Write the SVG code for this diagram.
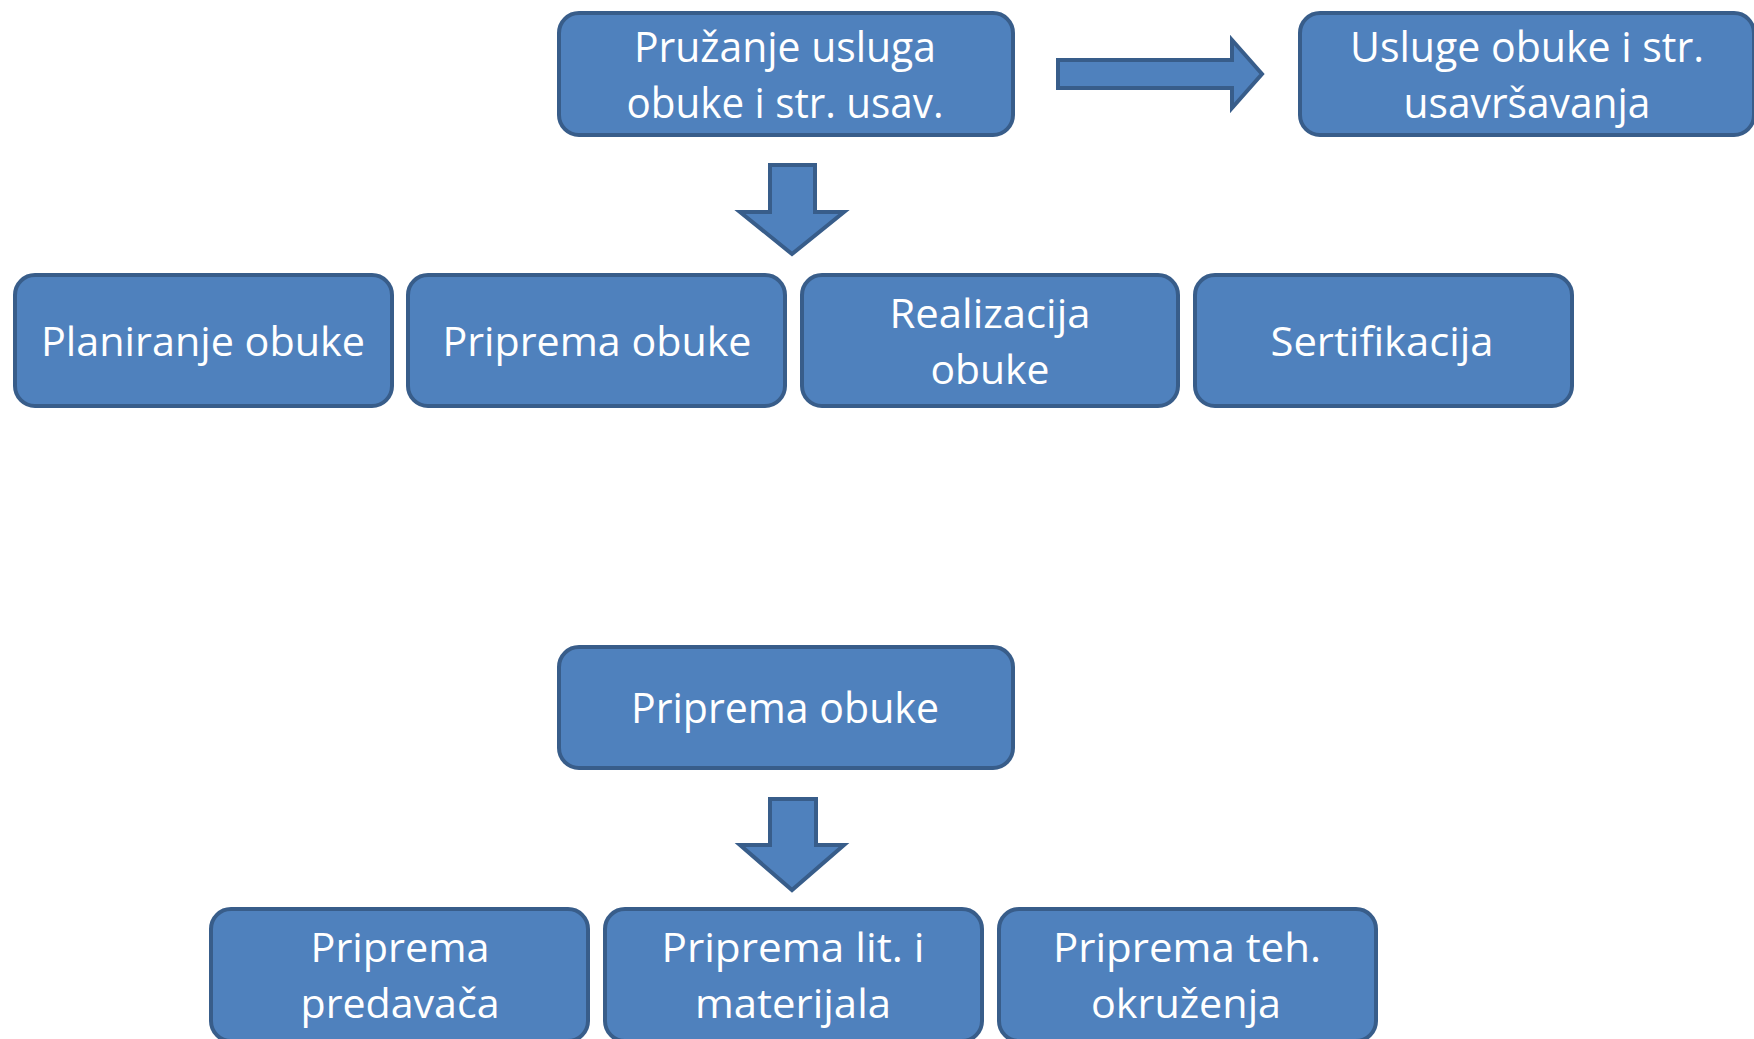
<svg xmlns="http://www.w3.org/2000/svg" width="1754" height="1039" viewBox="0 0 1754 1039">
<style>
.box{fill:#4F81BD;stroke:#385D8A;stroke-width:4}
.arr{fill:#4F81BD;stroke:#385D8A;stroke-width:4;stroke-linejoin:miter}
text{font-family:"Open Sans","Noto Sans","Liberation Sans",sans-serif;font-size:41px;fill:#FFFFFF;text-anchor:middle}
.big{font-size:42px}
</style>
<rect width="1754" height="1039" fill="#FFFFFF"/>
<g id="connectors">
<polygon class="arr" points="770,165 815,165 815,212 844,212 792,254 740,212 770,212"/>
<polygon class="arr" points="1058,60 1232,60 1232,40 1262,74 1232,108 1232,88 1058,88"/>
<polygon class="arr" points="770,799 816,799 816,845 844,845 792,890 740,845 770,845"/>
</g>
<g id="n-pruzanje">
<rect class="box" x="559" y="13" width="454" height="122" rx="20"/>
<text class="big" x="785" y="62" textLength="302" lengthAdjust="spacingAndGlyphs">Pružanje usluga</text>
<text class="big" x="785" y="118" textLength="317" lengthAdjust="spacingAndGlyphs">obuke i str. usav.</text>
</g>
<g id="n-usluge">
<rect class="box" x="1300" y="13" width="454" height="122" rx="20"/>
<text class="big" x="1527" y="62" textLength="354" lengthAdjust="spacingAndGlyphs">Usluge obuke i str.</text>
<text class="big" x="1527" y="118" textLength="247" lengthAdjust="spacingAndGlyphs">usavršavanja</text>
</g>
<g id="n-planiranje">
<rect class="box" x="15" y="275" width="377" height="131" rx="20"/>
<text x="203" y="356" textLength="324" lengthAdjust="spacingAndGlyphs">Planiranje obuke</text>
</g>
<g id="n-priprema1">
<rect class="box" x="408" y="275" width="377" height="131" rx="20"/>
<text x="597" y="356" textLength="309" lengthAdjust="spacingAndGlyphs">Priprema obuke</text>
</g>
<g id="n-realizacija">
<rect class="box" x="802" y="275" width="376" height="131" rx="20"/>
<text x="990" y="328" textLength="201" lengthAdjust="spacingAndGlyphs">Realizacija</text>
<text x="990" y="384" textLength="119" lengthAdjust="spacingAndGlyphs">obuke</text>
</g>
<g id="n-sertifikacija">
<rect class="box" x="1195" y="275" width="377" height="131" rx="20"/>
<text x="1382" y="356" textLength="223" lengthAdjust="spacingAndGlyphs">Sertifikacija</text>
</g>
<g id="n-priprema2">
<rect class="box" x="559" y="647" width="454" height="121" rx="20"/>
<text class="big" x="785" y="723" textLength="308" lengthAdjust="spacingAndGlyphs">Priprema obuke</text>
</g>
<g id="n-predavaca">
<rect class="box" x="211" y="909" width="377" height="132" rx="20"/>
<text x="400" y="962" textLength="179" lengthAdjust="spacingAndGlyphs">Priprema</text>
<text x="400" y="1018" textLength="199" lengthAdjust="spacingAndGlyphs">predavača</text>
</g>
<g id="n-materijala">
<rect class="box" x="605" y="909" width="377" height="132" rx="20"/>
<text x="793" y="962" textLength="263" lengthAdjust="spacingAndGlyphs">Priprema lit. i</text>
<text x="793" y="1018" textLength="196" lengthAdjust="spacingAndGlyphs">materijala</text>
</g>
<g id="n-okruzenja">
<rect class="box" x="999" y="909" width="377" height="132" rx="20"/>
<text x="1187" y="962" textLength="268" lengthAdjust="spacingAndGlyphs">Priprema teh.</text>
<text x="1186" y="1018" textLength="190" lengthAdjust="spacingAndGlyphs">okruženja</text>
</g>
</svg>
